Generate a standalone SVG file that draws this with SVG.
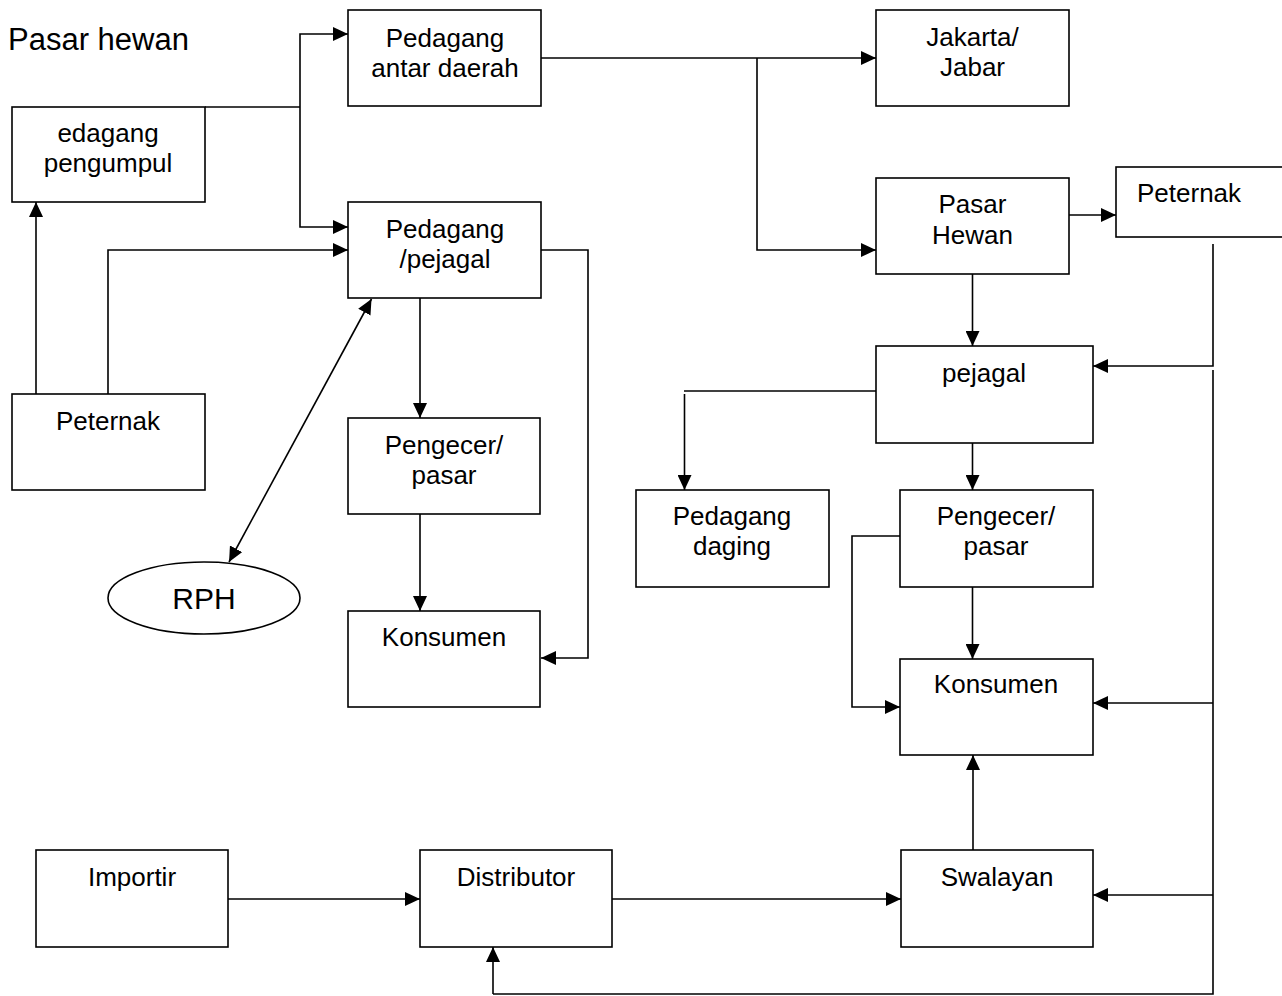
<svg xmlns="http://www.w3.org/2000/svg" width="1282" height="996" viewBox="0 0 1282 996">
<style>
.box{fill:#fff;stroke:#000;stroke-width:1.6}
.t{font-family:"Liberation Sans",Arial,sans-serif;font-size:26px;fill:#000;text-anchor:middle}
.c{fill:none;stroke:#000;stroke-width:1.6}
.a{marker-end:url(#ah)}
</style>
<defs>
<marker id="ah" markerUnits="userSpaceOnUse" markerWidth="15" markerHeight="14" refX="15" refY="7" orient="auto-start-reverse" viewBox="0 0 15 14">
<path d="M0,0 L15,7 L0,14 z" fill="#000"/>
</marker>
</defs>
<rect width="1282" height="996" fill="#fff"/>
<text class="t" x="8" y="50" style="text-anchor:start;font-size:31px">Pasar hewan</text>

<g id="connectors">
<path class="c a" d="M36,394 V202"/>
<path class="c a" d="M108,394 V250 H348"/>
<path class="c" d="M205,107 H300"/>
<path class="c a" d="M300,107 V34 H348"/>
<path class="c a" d="M300,107 V227 H348"/>
<path class="c a" d="M541,250 H588 V658 H541"/>
<path class="c a" d="M420,298 V418"/>
<path class="c a" d="M420,514 V611"/>
<path class="c a" d="M229,562 L371.5,299" style="marker-start:url(#ah)"/>
<path class="c a" d="M541,58 H876"/>
<path class="c a" d="M757,58 V250 H876"/>
<path class="c a" d="M1069,215 H1116"/>
<path class="c a" d="M972.5,274 V346"/>
<path class="c a" d="M1213,244 V366 H1093"/>
<path class="c" d="M1213,370 V994 H493"/>
<path class="c a" d="M493,994 V947"/>
<path class="c a" d="M1213,703 H1093"/>
<path class="c a" d="M1213,895 H1093"/>
<path class="c" d="M876,391 H684"/>
<path class="c a" d="M684.5,394 V490"/>
<path class="c a" d="M972.5,443 V490"/>
<path class="c a" d="M972.5,587 V659"/>
<path class="c a" d="M900,536 H852 V707 H900"/>
<path class="c a" d="M973,850 V755"/>
<path class="c a" d="M228,899 H420"/>
<path class="c a" d="M612,899 H901"/>
</g>

<g id="n-pengumpul">
<rect class="box" x="12" y="107" width="193" height="95"/>
<text class="t" x="108" y="142">edagang</text>
<text class="t" x="108" y="172">pengumpul</text>
</g>
<g id="n-antar-daerah">
<rect class="box" x="348" y="10" width="193" height="96"/>
<text class="t" x="445" y="47">Pedagang</text>
<text class="t" x="445" y="77">antar daerah</text>
</g>
<g id="n-pedagang-pejagal">
<rect class="box" x="348" y="202" width="193" height="96"/>
<text class="t" x="445" y="238">Pedagang</text>
<text class="t" x="445" y="268">/pejagal</text>
</g>
<g id="n-peternak-left">
<rect class="box" x="12" y="394" width="193" height="96"/>
<text class="t" x="108" y="430">Peternak</text>
</g>
<g id="n-pengecer-left">
<rect class="box" x="348" y="418" width="192" height="96"/>
<text class="t" x="444" y="454">Pengecer/</text>
<text class="t" x="444" y="484">pasar</text>
</g>
<g id="n-konsumen-left">
<rect class="box" x="348" y="611" width="192" height="96"/>
<text class="t" x="444" y="646">Konsumen</text>
</g>
<g id="n-rph">
<ellipse class="box" cx="204" cy="598" rx="96" ry="36"/>
<text class="t" x="204" y="609" style="font-size:30px">RPH</text>
</g>
<g id="n-jakarta">
<rect class="box" x="876" y="10" width="193" height="96"/>
<text class="t" x="972.5" y="46">Jakarta/</text>
<text class="t" x="972.5" y="76">Jabar</text>
</g>
<g id="n-pasar-hewan">
<rect class="box" x="876" y="178" width="193" height="96"/>
<text class="t" x="972.5" y="213">Pasar</text>
<text class="t" x="972.5" y="244">Hewan</text>
</g>
<g id="n-peternak-right">
<rect class="box" x="1116" y="167" width="190" height="70"/>
<text class="t" x="1137" y="202" style="text-anchor:start">Peternak</text>
</g>
<g id="n-pejagal-right">
<rect class="box" x="876" y="346" width="217" height="97"/>
<text class="t" x="984" y="382">pejagal</text>
</g>
<g id="n-pedagang-daging">
<rect class="box" x="636" y="490" width="193" height="97"/>
<text class="t" x="732" y="525">Pedagang</text>
<text class="t" x="732" y="555">daging</text>
</g>
<g id="n-pengecer-right">
<rect class="box" x="900" y="490" width="193" height="97"/>
<text class="t" x="996" y="525">Pengecer/</text>
<text class="t" x="996" y="555">pasar</text>
</g>
<g id="n-konsumen-right">
<rect class="box" x="900" y="659" width="193" height="96"/>
<text class="t" x="996" y="693">Konsumen</text>
</g>
<g id="n-importir">
<rect class="box" x="36" y="850" width="192" height="97"/>
<text class="t" x="132" y="886">Importir</text>
</g>
<g id="n-distributor">
<rect class="box" x="420" y="850" width="192" height="97"/>
<text class="t" x="516" y="886">Distributor</text>
</g>
<g id="n-swalayan">
<rect class="box" x="901" y="850" width="192" height="97"/>
<text class="t" x="997" y="886">Swalayan</text>
</g>
</svg>
